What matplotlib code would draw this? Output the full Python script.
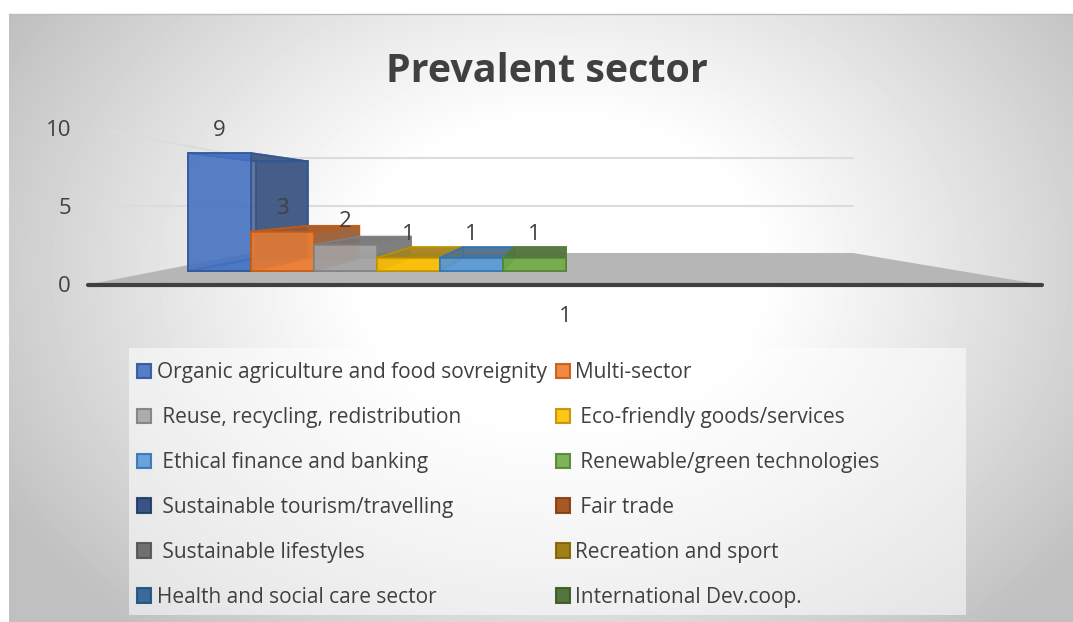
import numpy as np
import matplotlib
matplotlib.use('Agg')
import matplotlib.pyplot as plt
from matplotlib.colors import to_rgb
from matplotlib.patches import Polygon, Rectangle

plt.rcParams['font.family'] = ['Open Sans', 'DejaVu Sans']
TXT = '#404040'

series = ['Organic agriculture and food sovreignity', 'Multi-sector',
          ' Reuse, recycling, redistribution', ' Eco-friendly goods/services',
          ' Ethical finance and banking', ' Renewable/green technologies',
          ' Sustainable tourism/travelling', ' Fair trade',
          ' Sustainable lifestyles', 'Recreation and sport',
          'Health and social care sector', 'International Dev.coop.']
values = [9, 3, 2, 1, 1, 1]
face_colors = ['#4472C4', '#ED7D31', '#A5A5A5', '#FFC000', '#5B9BD5', '#70AD47',
               '#264478', '#9E480E', '#636363', '#997300', '#255E91', '#43682B']
edge_colors = ['#2F5597', '#C55A11', '#7F7F7F', '#BF9000', '#2E75B6', '#548235',
               '#203864', '#843C0C', '#525252', '#7F6000', '#1F4E79', '#385723']
axis_ticks = [0, 5, 10]
category = '1'
title = 'Prevalent sector'

W, H = 1073, 622
fig = plt.figure(figsize=(W / 100, H / 100), dpi=100)

# background axes works in pixels
bg = fig.add_axes([0, 0, 1, 1])
bg.set_xlim(0, W)
bg.set_ylim(H, 0)
bg.axis('off')

xx, yy = np.meshgrid(np.arange(9, W), np.arange(14, H))
r = np.sqrt(((xx - 560) / 560) ** 2 + ((yy - 270) / 420) ** 2)
shade = 1 - 0.25 * np.clip((r - 0.35) / 0.8, 0, 1) ** 1.1
bg.imshow(shade, cmap='gray', vmin=0, vmax=1, extent=(9, W, H, 14), aspect='auto', zorder=0)
bg.set_xlim(0, W)
bg.set_ylim(H, 0)
bg.plot([9, W], [14, 14], color='#bdbdbd', lw=1, zorder=1)

# walls and floor
for px, left in [(158, (110, 131)), (206, (100, 206))]:
    bg.plot([left[0], 250, 853], [left[1], px, px], color='#dcdcdc', lw=1.5, zorder=1)
bg.add_patch(Polygon([(96, 283), (250, 253), (853, 253), (1032, 283)],
                     facecolor='#b6b6b6', edgecolor='none', zorder=2))
bg.plot([88, 1042], [284.5, 284.5], color=TXT, lw=3, solid_capstyle='round', zorder=3)

for t in axis_ticks:
    bg.text(71, 287 - 15.6 * t, str(t), ha='right', va='center', fontsize=16, color=TXT, zorder=5)
bg.text(565, 316, category, ha='center', va='center', fontsize=16, color=TXT, zorder=5)
bg.text(547, 71, title, ha='center', va='center', fontsize=28.4, fontweight='bold', color=TXT, zorder=5)

# legend panel and legend, filled column by column
bg.add_patch(Rectangle((129, 348), 837, 267, facecolor='white', alpha=0.55, edgecolor='none', zorder=2))
handles = [Rectangle((0, 0), 1, 1, facecolor=f, edgecolor=e, alpha=0.9, lw=1.5)
           for f, e in zip(face_colors, edge_colors)]
order = list(range(0, 12, 2)) + list(range(1, 12, 2))
bg.legend([handles[i] for i in order], [series[i] for i in order], ncol=2, frameon=False,
          loc='upper left', bbox_to_anchor=(137, 362), bbox_transform=bg.transData,
          fontsize=15, labelcolor=TXT, borderpad=0, borderaxespad=0,
          handlelength=0.67, handleheight=0.67, handletextpad=0.27,
          labelspacing=1.15, columnspacing=0.43).set_zorder(6)

# bar axes: one category step on x, one value unit on y
bars = fig.add_axes([0, 0, 1, 1], facecolor='none')
bars.set_xlim((0 - 188) / 63, (W - 188) / 63)
bars.set_ylim((271 - H) / 13.1, 271 / 13.1)
bars.axis('off')

# fake perspective of the 3d column chart
VP_X, VP_Y, DEPTH = 6, 5.5, 0.82


def back(x, y):
    return VP_X + (x - VP_X) * DEPTH, VP_Y + (y - VP_Y) * DEPTH


for i, v in enumerate(values):
    x0, x1 = i, i + 1
    fl, tl, tr, fr = (x0, 0), (x0, v), (x1, v), (x1, 0)
    bl, btl, btr, br = back(*fl), back(*tl), back(*tr), back(*fr)
    f = to_rgb(face_colors[i])
    # side faces are a duller, darker version of the front colour
    grey = sum(f) / 3
    dark = tuple((c * 0.75 + grey * 0.25) * 0.72 for c in f)
    edge = (*to_rgb(edge_colors[i]), 0.8)
    faces = [([bl, btl, btr, br], dark, 0.8),
             ([fl, tl, btl, bl], dark, 0.25),
             ([fl, fr, br, bl], f, 0.5),
             ([fr, tr, btr, br], dark, 0.7),
             ([tl, tr, btr, btl], dark, 0.75),
             ([fl, tl, tr, fr], f, 0.85)]
    for pts, col, a in faces:
        bars.add_patch(Polygon(pts, facecolor=(*col, a), edgecolor=edge, lw=1.3, joinstyle='miter'))
    bars.annotate(str(v), (i + 0.5, v), xytext=(0, 23 * 0.72), textcoords='offset points',
                  ha='center', va='center', fontsize=16, color=TXT)

fig.savefig('out.png', dpi=100, facecolor='white')
